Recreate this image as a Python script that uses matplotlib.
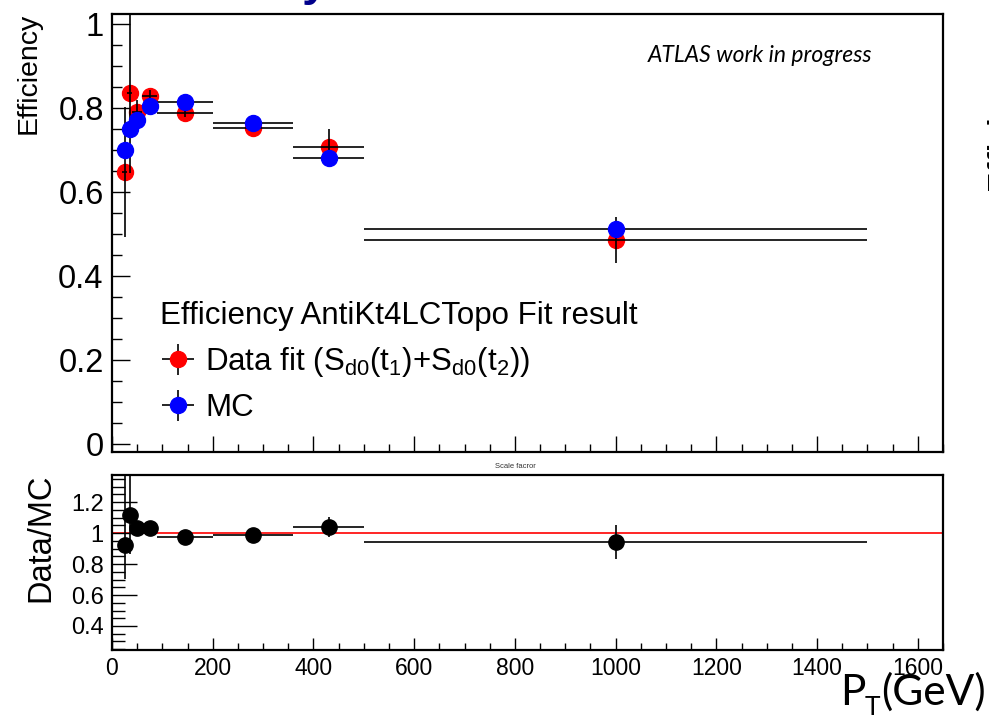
import numpy as np
import matplotlib
matplotlib.use("Agg")
import matplotlib.pyplot as plt
from matplotlib.ticker import MultipleLocator

plt.rcParams['font.family'] = ['Liberation Sans', 'DejaVu Sans']
plt.rcParams['mathtext.fontset'] = 'custom'
plt.rcParams['mathtext.rm'] = 'Liberation Sans'
plt.rcParams['mathtext.it'] = 'Liberation Sans:italic'

# pT bins (GeV)
pt = [25, 35, 50, 75, 145, 280, 430, 1000]
pt_lo = [20, 30, 40, 60, 90, 200, 360, 500]
pt_hi = [30, 40, 60, 90, 200, 360, 500, 1500]

# efficiency: data fit
eff_data = [0.648, 0.836, 0.790, 0.829, 0.788, 0.752, 0.706, 0.486]
eff_data_err = [0.155, 0.19, 0.03, 0.015, 0.01, 0.01, 0.045, 0.055]

# efficiency: MC
eff_mc = [0.700, 0.750, 0.771, 0.805, 0.814, 0.764, 0.680, 0.512]
eff_mc_err = [0.005, 0.005, 0.005, 0.005, 0.005, 0.005, 0.005, 0.005]

# scale factor data/MC
ratio = [0.923, 1.116, 1.030, 1.030, 0.974, 0.987, 1.040, 0.944]
ratio_err_lo = [0.22, 0.25, 0.04, 0.02, 0.015, 0.015, 0.065, 0.11]
ratio_err_hi = [0.50, 0.25, 0.04, 0.02, 0.015, 0.015, 0.065, 0.11]

pt = np.array(pt)
xerr = [pt - np.array(pt_lo), np.array(pt_hi) - pt]

W, H = 989, 715
fig = plt.figure(figsize=(W / 100, H / 100), dpi=100)

# axes placed in pixel units of the reference
def px_axes(l, t, r, b):
    return fig.add_axes([l / W, 1 - b / H, (r - l) / W, (b - t) / H])

ax1 = px_axes(112, 14, 943, 452)
ax2 = px_axes(112, 475, 943, 650)

# ---- top panel: efficiencies
ax1.plot(pt, eff_data, 'o', color='#ff0000', ms=11.5, zorder=2)
ax1.errorbar(pt, eff_data, yerr=eff_data_err, xerr=xerr, fmt='none',
             ecolor='black', elinewidth=1.2, zorder=3)
ax1.errorbar(pt, eff_mc, yerr=eff_mc_err, xerr=xerr, fmt='none',
             ecolor='black', elinewidth=1.2, zorder=3.5)
ax1.plot(pt, eff_mc, 'o', color='#0000ff', ms=11.5, zorder=4)

ax1.set_xlim(0, 1650)
ax1.set_ylim(-0.02, 1.024)
ax1.yaxis.set_minor_locator(MultipleLocator(0.05))
ax1.xaxis.set_major_locator(MultipleLocator(200))
ax1.xaxis.set_minor_locator(MultipleLocator(50))
ax1.set_yticks([0, 0.2, 0.4, 0.6, 0.8, 1.0])
ax1.set_yticklabels(['0', '0.2', '0.4', '0.6', '0.8', '1'])
ax1.tick_params(axis='both', which='both', direction='in', top=False,
                right=False, labelbottom=False, width=1.0)
ax1.tick_params(axis='y', which='major', length=13, labelsize=23.5, pad=6)
ax1.tick_params(axis='y', which='minor', length=7)
ax1.tick_params(axis='x', which='major', length=11.5)
ax1.tick_params(axis='x', which='minor', length=5.8)

# legend built from the same kind of markers
h_data = ax1.errorbar([], [], yerr=[], xerr=[], fmt='o', color='#ff0000',
                      ecolor='black', ms=11.5, elinewidth=1.2)
h_mc = ax1.errorbar([], [], yerr=[], xerr=[], fmt='o', color='#0000ff',
                    ecolor='black', ms=11.5, elinewidth=1.2)
ax1.legend([h_data, h_mc],
           [r'Data fit (S$_{\rm d0}$(t$_{\rm 1}$)+S$_{\rm d0}$(t$_{\rm 2}$))', 'MC'],
           title='Efficiency AntiKt4LCTopo Fit result', alignment='left',
           loc='upper left', bbox_to_anchor=((160 - 112) / 831, (452 - 301) / 438),
           frameon=False, fontsize=22.5, title_fontsize=22.5, borderpad=0,
           borderaxespad=0, handlelength=1.15, handletextpad=0.3,
           labelspacing=0.45)

ax1.text((872 - 112) / 831, 0.905, 'ATLAS work in progress',
         transform=ax1.transAxes, ha='right', va='center', fontsize=16.5,
         style='italic', family=['Lato', 'DejaVu Sans'])

# ---- bottom panel: scale factor
ax2.axhline(1.0, color='#ff0000', lw=1.2, zorder=1)
ax2.errorbar(pt, ratio, yerr=[ratio_err_lo, ratio_err_hi], xerr=xerr,
             fmt='o', color='black', ecolor='black', ms=11, elinewidth=1.2,
             zorder=3)
ax2.set_xlim(0, 1650)
ax2.set_ylim(0.245, 1.375)
ax2.set_yticks([0.4, 0.6, 0.8, 1.0, 1.2])
ax2.set_yticklabels(['0.4', '0.6', '0.8', '1', '1.2'])
ax2.yaxis.set_minor_locator(MultipleLocator(0.05))
ax2.xaxis.set_major_locator(MultipleLocator(200))
ax2.xaxis.set_minor_locator(MultipleLocator(50))
ax2.tick_params(axis='both', which='both', direction='in', top=False,
                right=False, width=1.0)
ax2.tick_params(axis='y', which='major', length=18, labelsize=17, pad=6)
ax2.tick_params(axis='y', which='minor', length=9.4)
ax2.tick_params(axis='x', which='major', length=8.6, labelsize=16.5, pad=5)
ax2.tick_params(axis='x', which='minor', length=5)

for ax in (ax1, ax2):
    for sp in ax.spines.values():
        sp.set_linewidth(1.6)

# axis titles
fig.text(29 / W, 1 - 13 / H, 'Efficiency', rotation=90, ha='center', va='top',
         fontsize=20.5)
fig.text(41 / W, 1 - 474 / H, 'Data/MC', rotation=90, ha='center', va='top',
         fontsize=23.5)
fig.text(840 / W, 1 - 705 / H, 'P', ha='left', va='baseline', fontsize=30.5,
         family=['Lato', 'DejaVu Sans'])
fig.text(865 / W, 1 - 716 / H, 'T', ha='left', va='baseline', fontsize=19,
         family=['Lato', 'DejaVu Sans'])
fig.text(881 / W, 1 - 705 / H, '(GeV)', ha='left', va='baseline', fontsize=30.5,
         family=['Lato', 'DejaVu Sans'])
fig.text(515 / W, 1 - 466 / H, 'Scale facror', ha='center', va='center',
         fontsize=5.5, color='#333333')

# cut-off pieces of neighbouring text in the original screenshot
fig.text(315 / W, 1 + 5 / H, 'y', ha='center', va='baseline', fontsize=34,
         fontweight='bold', color='#00008b')
fig.text(986 / W, 1 - 190 / H, 'Efficiency', rotation=90, ha='left',
         va='bottom', fontsize=22, fontweight='bold')

fig.savefig('out.png', dpi=100)
